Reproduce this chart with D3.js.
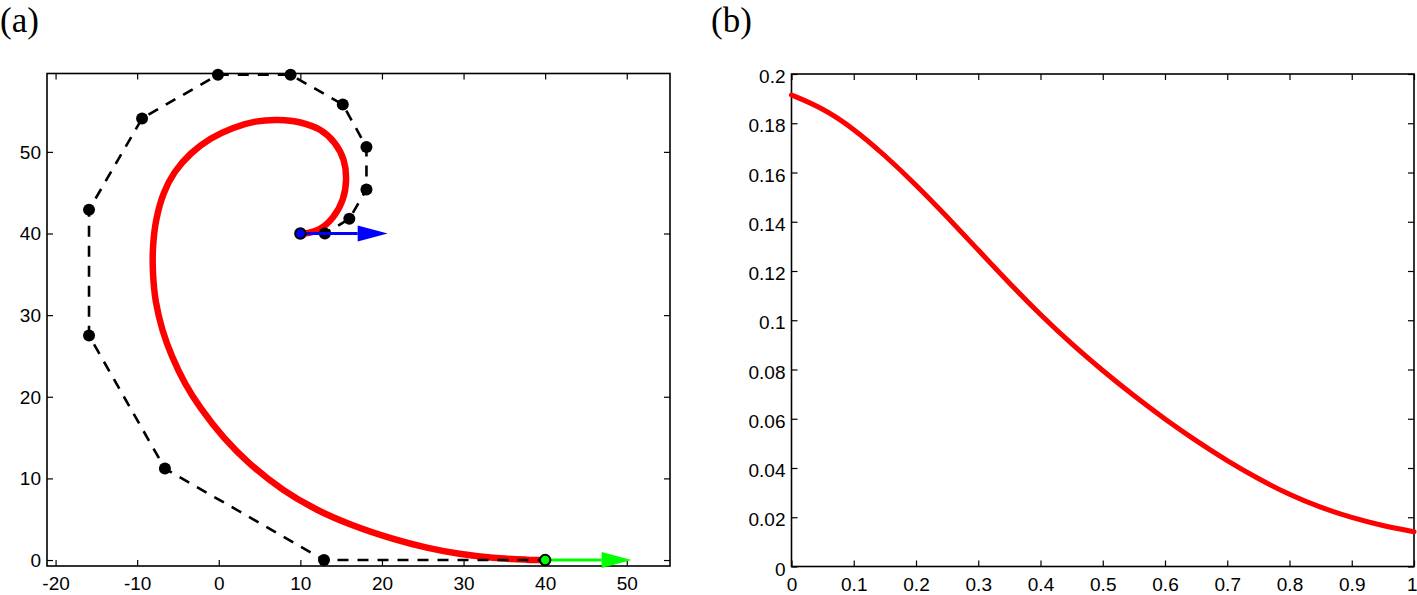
<!DOCTYPE html>
<html>
<head>
<meta charset="utf-8">
<script src="https://cdn.jsdelivr.net/npm/d3@7"></script>
<style>
  html, body { margin: 0; padding: 0; background: #fff; }
  svg { display: block; }
  .tick text { font-family: "Liberation Sans", Arial, Helvetica, sans-serif; font-size: 19px; fill: #000; }
  .panel-label { font-family: "Liberation Serif", "Times New Roman", serif; font-size: 35px; fill: #000; }
</style>
</head>
<body>
<script>
// ---------- Data: panel (a) ----------
// Red spiral curve (x, y)
const curveX = [10.1, 11.1, 12.3, 14.0, 15.2, 15.6, 15.3, 14.2, 12.4, 10.0, 7.3, 4.5, 1.7, -1.0, -3.4, -5.4, -6.75, -7.65, -8.05, -8.05, -7.7, -6.9, -5.7, -4.1, -2.2, 0.66, 3.8, 7.9, 12.0, 16.1, 21.4, 25.5, 29.5, 33.6, 37.7, 40.0];
const curveY = [40.0, 40.09, 40.5, 42.0, 44.2, 46.6, 49.0, 51.1, 52.7, 53.6, 53.9, 53.7, 52.9, 51.6, 49.8, 47.5, 44.9, 41.7, 38.4, 35.0, 31.6, 28.2, 24.9, 21.6, 18.6, 14.96, 11.81, 8.6, 6.19, 4.39, 2.59, 1.52, 0.76, 0.27, 0.05, 0.0];
// Control polygon points
const ctrlX = [10, 13, 16, 18.1, 18.1, 15.2, 8.8, -0.1, -9.4, -15.9, -15.9, -6.6, 12.9, 40];
const ctrlY = [40, 40, 41.8, 45.4, 50.6, 55.8, 59.45, 59.45, 54.1, 42.9, 27.5, 11.2, 0, 0];
// Tangent arrows: start point and vector
const arrowStartX = [10, 40];
const arrowStartY = [40, 0];
const arrowVecX = [10.7, 10.6];
const arrowVecY = [0, 0];
const arrowColors = ["#0000ff", "#00ff00"];
// Axis ticks panel (a)
const xTicksA = [-20, -10, 0, 10, 20, 30, 40, 50];
const yTicksA = [0, 10, 20, 30, 40, 50];

// ---------- Data: panel (b) ----------
const tValues = [0, 0.05, 0.1, 0.15, 0.2, 0.25, 0.3, 0.35, 0.4, 0.45, 0.5, 0.55, 0.6, 0.65, 0.7, 0.75, 0.8, 0.85, 0.9, 0.95, 1];
const kValues = [0.1915, 0.1862, 0.1778, 0.167, 0.155, 0.142, 0.1285, 0.115, 0.1022, 0.0903, 0.0795, 0.0693, 0.0598, 0.051, 0.0429, 0.0356, 0.0291, 0.0239, 0.0198, 0.0165, 0.0141];
const xTicksB = [0, 0.1, 0.2, 0.3, 0.4, 0.5, 0.6, 0.7, 0.8, 0.9, 1];
const yTicksB = [0, 0.02, 0.04, 0.06, 0.08, 0.1, 0.12, 0.14, 0.16, 0.18, 0.2];

// ---------- Layout ----------
const W = 1417, H = 595;
const svg = d3.select("body").append("svg").attr("width", W).attr("height", H);

const xA = d3.scaleLinear().domain([-21.05, 55.3]).range([47, 670]);
const yA = d3.scaleLinear().domain([-0.73, 59.6]).range([566, 73.5]);
const xB = d3.scaleLinear().domain([0, 1]).range([791.5, 1414]);
const yB = d3.scaleLinear().domain([0, 0.2]).range([566.5, 74]);

function drawAxes(x, y, xt, yt, yDy) {
  const g = svg.append("g");
  const [x0, x1] = x.range();
  const [y0, y1] = y.range(); // y0 bottom, y1 top
  const fmt = d => String(d);
  const bottom = g.append("g").attr("transform", `translate(0,${y0})`)
    .call(d3.axisBottom(x).tickValues(xt).tickFormat(fmt).tickSizeInner(-6).tickSizeOuter(0).tickPadding(11));
  const top = g.append("g").attr("transform", `translate(0,${y1})`)
    .call(d3.axisTop(x).tickValues(xt).tickFormat("").tickSizeInner(-6).tickSizeOuter(0));
  const left = g.append("g").attr("transform", `translate(${x0},0)`)
    .call(d3.axisLeft(y).tickValues(yt).tickFormat(fmt).tickSizeInner(-6).tickSizeOuter(0).tickPadding(6));
  const right = g.append("g").attr("transform", `translate(${x1},0)`)
    .call(d3.axisRight(y).tickValues(yt).tickFormat("").tickSizeInner(-6).tickSizeOuter(0));
  [bottom, top, left, right].forEach(a => {
    a.select(".domain").remove();
    a.selectAll(".tick line").attr("stroke", "#000").attr("stroke-width", 1.2);
    a.attr("font-family", null).attr("font-size", null);
  });
  left.selectAll(".tick text").attr("dy", yDy);
  // keep the last x label inside the picture
  bottom.selectAll(".tick text").filter(d => x(d) + 6 > W)
    .attr("text-anchor", "end").attr("x", W - x(xt[xt.length - 1]));
  g.append("rect").attr("x", x0).attr("y", y1).attr("width", x1 - x0).attr("height", y0 - y1)
    .attr("fill", "none").attr("stroke", "#000").attr("stroke-width", 1.6);
}

drawAxes(xA, yA, xTicksA, yTicksA, "0.34em");
drawAxes(xB, yB, xTicksB, yTicksB, "0.45em");

// Panel labels
svg.append("text").attr("class", "panel-label").attr("x", 0).attr("y", 31.5).text("(a)");
svg.append("text").attr("class", "panel-label").attr("x", 711).attr("y", 31.5).text("(b)");

// ---------- Panel (a) marks ----------
const curvePts = curveX.map((v, i) => [v, curveY[i]]);
svg.append("path")
  .attr("d", d3.line().x(d => xA(d[0])).y(d => yA(d[1])).curve(d3.curveCatmullRom.alpha(0.5))(curvePts))
  .attr("fill", "none").attr("stroke", "#ff0000").attr("stroke-width", 6.5).attr("stroke-linejoin", "round");

const ctrlPts = ctrlX.map((v, i) => [v, ctrlY[i]]);
svg.append("path")
  .attr("d", d3.line().x(d => xA(d[0])).y(d => yA(d[1]))(ctrlPts))
  .attr("fill", "none").attr("stroke", "#000").attr("stroke-width", 2.6).attr("stroke-dasharray", "11,9");

svg.append("g").selectAll("circle").data(ctrlPts.slice(1, -1)).join("circle")
  .attr("cx", d => xA(d[0])).attr("cy", d => yA(d[1])).attr("r", 6).attr("fill", "#000");

// Arrows
const headLen = 30, headHalf = 8;
arrowStartX.forEach((sx, i) => {
  const px0 = xA(sx), py0 = yA(arrowStartY[i]);
  const px1 = xA(sx + arrowVecX[i]), py1 = yA(arrowStartY[i] + arrowVecY[i]);
  const ang = Math.atan2(py1 - py0, px1 - px0);
  const bx = px1 - headLen * Math.cos(ang), by = py1 - headLen * Math.sin(ang);
  svg.append("line").attr("x1", px0).attr("y1", py0).attr("x2", bx).attr("y2", by)
    .attr("stroke", arrowColors[i]).attr("stroke-width", 3);
  const nx = -Math.sin(ang) * headHalf, ny = Math.cos(ang) * headHalf;
  svg.append("path")
    .attr("d", `M${px1},${py1}L${bx + nx},${by + ny}L${bx - nx},${by - ny}Z`)
    .attr("fill", arrowColors[i]);
});

// Start / end markers
svg.append("g").selectAll("circle").data([0, 1]).join("circle")
  .attr("cx", i => xA(arrowStartX[i])).attr("cy", i => yA(arrowStartY[i])).attr("r", 5.2)
  .attr("fill", i => arrowColors[i]).attr("stroke", "#000").attr("stroke-width", 2);

// ---------- Panel (b) marks ----------
const kPts = tValues.map((t, i) => [t, kValues[i]]);
svg.append("path")
  .attr("d", d3.line().x(d => xB(d[0])).y(d => yB(d[1])).curve(d3.curveBasis)(kPts))
  .attr("fill", "none").attr("stroke", "#ff0000").attr("stroke-width", 5).attr("stroke-linecap", "round");
</script>
</body>
</html>
